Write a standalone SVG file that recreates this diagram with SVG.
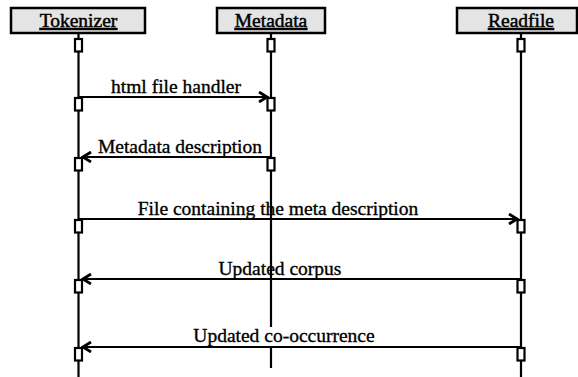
<svg xmlns="http://www.w3.org/2000/svg" width="578" height="377" viewBox="0 0 578 377">
<style>
.hdr{fill:#e4e4e4;stroke:#000;stroke-width:2.5}
.ht{font-family:"Liberation Serif","Times New Roman",serif;font-size:19.5px;text-anchor:middle;text-decoration:underline;fill:#000;stroke:#000;stroke-width:0.5}
.life{stroke:#000;stroke-width:2.2;fill:none}
.act{fill:#fff;stroke:#000;stroke-width:2.2}
.msg{stroke:#000;stroke-width:2.2;fill:none;marker-end:url(#arr)}
.ml{font-family:"Liberation Serif","Times New Roman",serif;font-size:19.5px;text-anchor:middle;fill:#000;stroke:#000;stroke-width:0.35}
</style>
<defs>
<marker id="arr" viewBox="0 0 12 12" refX="10" refY="6" markerWidth="12" markerHeight="12" markerUnits="userSpaceOnUse" orient="auto">
<path d="M2,1 L10,6 L2,11" fill="none" stroke="#000" stroke-width="2.8"/>
</marker>
</defs>
<rect width="578" height="377" fill="#fff"/>

<g id="connectors">
<line class="msg" x1="78.5" y1="97" x2="267" y2="97"/>
<line class="msg" x1="271" y1="157" x2="83" y2="157"/>
<line class="msg" x1="78.5" y1="219" x2="517" y2="219"/>
<line class="msg" x1="521" y1="279" x2="83" y2="279"/>
<line class="msg" x1="521" y1="347" x2="83" y2="347"/>
</g>

<g id="labels">
<text class="ml" x="176" y="93">html file handler</text>
<text class="ml" x="180" y="153">Metadata description</text>
<text class="ml" x="278" y="215">File containing the meta description</text>
<text class="ml" x="280" y="275">Updated corpus</text>
<text class="ml" x="284" y="342">Updated co-occurrence</text>
</g>

<g id="tokenizer">
<line class="life" x1="78.5" y1="33" x2="78.5" y2="377"/>
<rect class="hdr" x="11" y="8" width="134" height="25"/>
<text class="ht" x="78.5" y="27">Tokenizer</text>
<rect class="act" x="75" y="39" width="7" height="12.5"/>
<rect class="act" x="75" y="98" width="7" height="12.5"/>
<rect class="act" x="75" y="158" width="7" height="12.5"/>
<rect class="act" x="75" y="220" width="7" height="12.5"/>
<rect class="act" x="75" y="280" width="7" height="12.5"/>
<rect class="act" x="75" y="348" width="7" height="12.5"/>
</g>

<g id="metadata">
<line class="life" x1="271" y1="33" x2="271" y2="327" stroke-width="2.6"/>
<line class="life" x1="271" y1="346" x2="271" y2="368" stroke-width="2.6"/>
<rect class="hdr" x="217" y="8" width="108" height="25"/>
<text class="ht" x="271" y="27">Metadata</text>
<rect class="act" x="267.5" y="39" width="7" height="12.5"/>
<rect class="act" x="267.5" y="98" width="7" height="12.5"/>
<rect class="act" x="267.5" y="158" width="7" height="12.5"/>
</g>

<g id="readfile">
<line class="life" x1="521" y1="33" x2="521" y2="377"/>
<rect class="hdr" x="457" y="8" width="120" height="25"/>
<text class="ht" x="521" y="27">Readfile</text>
<rect class="act" x="517.5" y="39" width="7" height="12.5"/>
<rect class="act" x="517.5" y="220" width="7" height="12.5"/>
<rect class="act" x="517.5" y="280" width="7" height="12.5"/>
<rect class="act" x="517.5" y="348" width="7" height="12.5"/>
</g>
</svg>
